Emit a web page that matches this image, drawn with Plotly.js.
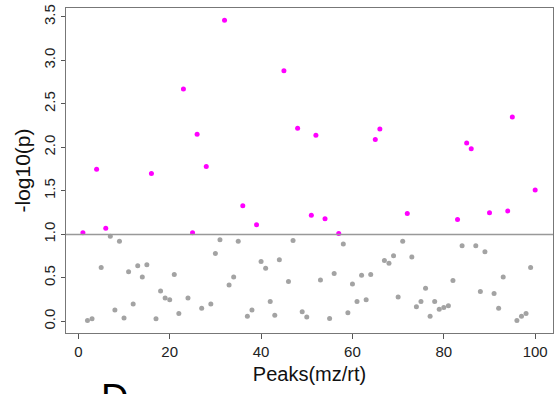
<!DOCTYPE html>
<html>
<head>
<meta charset="utf-8">
<script src="https://cdn.plot.ly/plotly-3.0.1.min.js"></script>
<style>
  html, body { margin: 0; padding: 0; background: #fff; }
  #chart { width: 555px; height: 394px; }
</style>
</head>
<body>
<div id="chart"></div>
<script>
// Peak index (mz/rt)
var peaks = [1,2,3,4,5,6,7,8,9,10,11,12,13,14,15,16,17,18,19,20,
  21,22,23,24,25,26,27,28,29,30,31,32,33,34,35,36,37,38,39,40,
  41,42,43,44,45,46,47,48,49,50,51,52,53,54,55,56,57,58,59,60,
  61,62,63,64,65,66,67,68,69,70,71,72,73,74,75,76,77,78,79,80,
  81,82,83,84,85,86,87,88,89,90,91,92,93,94,95,96,97,98,99,100];

// -log10(p) per peak
var negLogP = [1.02,0.01,0.03,1.75,0.62,1.07,0.98,0.13,0.92,0.04,
  0.57,0.20,0.64,0.51,0.65,1.70,0.03,0.35,0.27,0.25,
  0.54,0.09,2.67,0.27,1.02,2.15,0.15,1.78,0.20,0.78,
  0.94,3.46,0.42,0.51,0.92,1.33,0.06,0.13,1.11,0.69,
  0.61,0.23,0.07,0.71,2.88,0.46,0.93,2.22,0.11,0.05,
  1.22,2.14,0.475,1.18,0.035,0.55,1.01,0.89,0.10,0.43,
  0.23,0.53,0.25,0.54,2.09,2.21,0.70,0.67,0.755,0.28,
  0.92,1.24,0.74,0.17,0.23,0.38,0.06,0.23,0.14,0.16,
  0.18,0.47,1.17,0.87,2.05,1.985,0.87,0.345,0.80,1.25,
  0.32,0.15,0.51,1.27,2.35,0.01,0.06,0.09,0.62,1.51];

var threshold = 1.0;
var xTickVals = [0, 20, 40, 60, 80, 100];
var yTickVals = [0, 0.5, 1, 1.5, 2, 2.5, 3, 3.5];
var yTickText = ["0.0","0.5","1.0","1.5","2.0","2.5","3.0","3.5"];
var panelLabel = "D";

var sigX = [], sigY = [], nsX = [], nsY = [];
for (var i = 0; i < peaks.length; i++) {
  if (negLogP[i] > threshold) { sigX.push(peaks[i]); sigY.push(negLogP[i]); }
  else { nsX.push(peaks[i]); nsY.push(negLogP[i]); }
}

var font = "'Liberation Sans', Arial, sans-serif";

var traces = [
  { x: nsX, y: nsY, type: 'scatter', mode: 'markers',
    marker: { color: '#a3a3a3', size: 5 }, hoverinfo: 'none' },
  { x: sigX, y: sigY, type: 'scatter', mode: 'markers',
    marker: { color: '#ff00ff', size: 5 }, hoverinfo: 'none' }
];

var layout = {
  width: 555, height: 394,
  margin: { l: 66, r: 2, t: 8, b: 61 },
  paper_bgcolor: '#ffffff', plot_bgcolor: '#ffffff',
  showlegend: false,
  font: { family: font, color: '#222', size: 15 },
  xaxis: {
    range: [-2.7, 103.9],
    tickvals: xTickVals,
    ticks: 'outside', ticklen: 5, tickcolor: '#555', tickwidth: 1,
    showgrid: false, zeroline: false,
    showline: true, linecolor: '#777', linewidth: 1, mirror: true,
    tickfont: { family: font, size: 15, color: '#222' },
    title: { text: 'Peaks(mz/rt)', font: { family: font, size: 20, color: '#111' }, standoff: 7 }
  },
  yaxis: {
    range: [-0.133, 3.602],
    tickvals: yTickVals, ticktext: yTickText, tickangle: -90,
    ticks: 'outside', ticklen: 4, tickcolor: '#555', tickwidth: 1,
    showgrid: false, zeroline: false,
    showline: true, linecolor: '#777', linewidth: 1, mirror: true,
    tickfont: { family: font, size: 15, color: '#222' },
    title: { text: '-log10(p)', font: { family: font, size: 21, color: '#111' }, standoff: 4 }
  },
  shapes: [{
    type: 'line', xref: 'paper', yref: 'y',
    x0: 0, x1: 1, y0: threshold, y1: threshold,
    line: { color: '#999999', width: 1.5 }
  }],
  annotations: [{
    text: panelLabel, xref: 'paper', yref: 'paper',
    x: 0.068, y: -0.13, xanchor: 'left', yanchor: 'top',
    showarrow: false, font: { family: font, size: 38, color: '#000' }
  }]
};

Plotly.newPlot('chart', traces, layout, { displayModeBar: false, staticPlot: true });
</script>
</body>
</html>
